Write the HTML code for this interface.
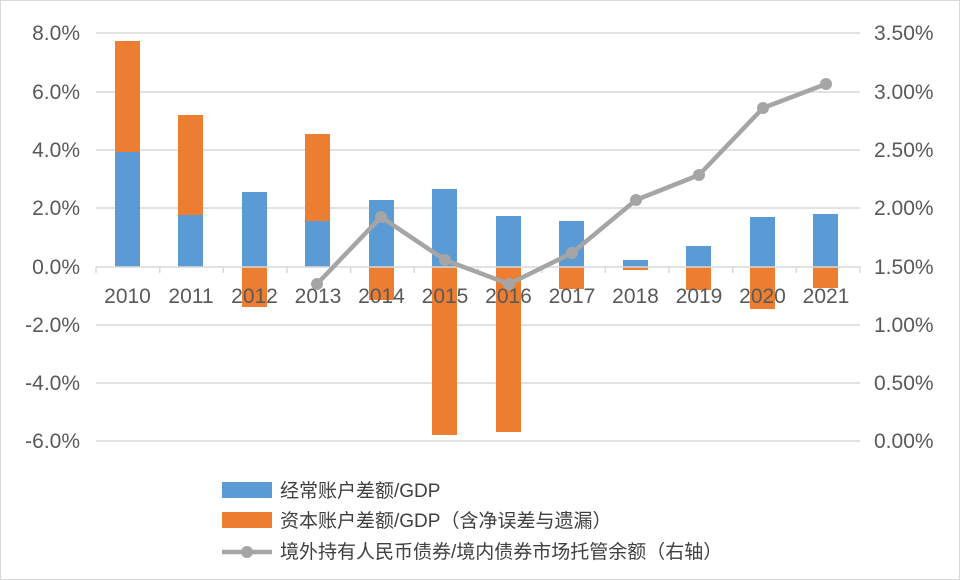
<!DOCTYPE html>
<html><head><meta charset="utf-8"><style>body{margin:0;background:#fff}svg{display:block}text{font-family:"Liberation Sans","Noto Sans CJK SC",sans-serif;fill:#595959}</style></head><body>
<svg width="960" height="580" viewBox="0 0 960 580">
<rect x="0.5" y="0.5" width="959" height="579" fill="#fff" stroke="#d9d9d9"/>
<g stroke="#d9d9d9" stroke-width="1.5">
<line x1="96" y1="33" x2="860" y2="33"/><line x1="96" y1="92" x2="860" y2="92"/><line x1="96" y1="150" x2="860" y2="150"/><line x1="96" y1="208" x2="860" y2="208"/><line x1="96" y1="325" x2="860" y2="325"/><line x1="96" y1="383" x2="860" y2="383"/><line x1="96" y1="441" x2="860" y2="441"/>
</g>
<g font-size="21" text-anchor="end">
<text x="80" y="40">8.0%</text><text x="80" y="99">6.0%</text><text x="80" y="157">4.0%</text><text x="80" y="215">2.0%</text><text x="80" y="274">0.0%</text><text x="80" y="332">-2.0%</text><text x="80" y="390">-4.0%</text><text x="80" y="448">-6.0%</text>
</g>
<g font-size="21" text-anchor="start">
<text x="874" y="40">3.50%</text><text x="874" y="99">3.00%</text><text x="874" y="157">2.50%</text><text x="874" y="215">2.00%</text><text x="874" y="274">1.50%</text><text x="874" y="332">1.00%</text><text x="874" y="390">0.50%</text><text x="874" y="448">0.00%</text>
</g>
<g fill="#5b9bd5">
<rect x="115" y="152" width="25" height="115"/><rect x="178" y="215" width="25" height="52"/><rect x="242" y="192" width="25" height="75"/><rect x="305" y="221" width="25" height="46"/><rect x="369" y="200" width="25" height="67"/><rect x="432" y="189" width="25" height="78"/><rect x="496" y="216" width="25" height="51"/><rect x="559" y="221" width="25" height="46"/><rect x="623" y="260" width="25" height="7"/><rect x="686" y="246" width="25" height="21"/><rect x="750" y="217" width="25" height="50"/><rect x="813" y="214" width="25" height="53"/>
</g>
<g fill="#ed7d31">
<rect x="115" y="41" width="25" height="111"/><rect x="178" y="115" width="25" height="100"/><rect x="242" y="267" width="25" height="40"/><rect x="305" y="134" width="25" height="87"/><rect x="369" y="267" width="25" height="33"/><rect x="432" y="267" width="25" height="168"/><rect x="496" y="267" width="25" height="165"/><rect x="559" y="267" width="25" height="22"/><rect x="623" y="267" width="25" height="3"/><rect x="686" y="267" width="25" height="23"/><rect x="750" y="267" width="25" height="42"/><rect x="813" y="267" width="25" height="21"/>
</g>
<g stroke="#d9d9d9" stroke-width="1.5">
<line x1="96" y1="267" x2="860" y2="267"/>
<line x1="96" y1="267" x2="96" y2="273"/><line x1="159.7" y1="267" x2="159.7" y2="273"/><line x1="223.3" y1="267" x2="223.3" y2="273"/><line x1="287" y1="267" x2="287" y2="273"/><line x1="350.7" y1="267" x2="350.7" y2="273"/><line x1="414.3" y1="267" x2="414.3" y2="273"/><line x1="478" y1="267" x2="478" y2="273"/><line x1="541.7" y1="267" x2="541.7" y2="273"/><line x1="605.3" y1="267" x2="605.3" y2="273"/><line x1="669" y1="267" x2="669" y2="273"/><line x1="732.7" y1="267" x2="732.7" y2="273"/><line x1="796.3" y1="267" x2="796.3" y2="273"/><line x1="860" y1="267" x2="860" y2="273"/>
</g>
<g font-size="21" text-anchor="middle">
<text x="127.5" y="303">2010</text><text x="191" y="303">2011</text><text x="254.5" y="303">2012</text><text x="318" y="303">2013</text><text x="381.5" y="303">2014</text><text x="445" y="303">2015</text><text x="508.5" y="303">2016</text><text x="572" y="303">2017</text><text x="635.5" y="303">2018</text><text x="699" y="303">2019</text><text x="762.5" y="303">2020</text><text x="826" y="303">2021</text>
</g>
<polyline points="317,284 381,217 445,260 509,284 572,253 636,200 699,175 763,108 826,84" fill="none" stroke="#a5a5a5" stroke-width="4.5" stroke-linejoin="round"/>
<g fill="#a5a5a5">
<circle cx="317" cy="284" r="6"/><circle cx="381" cy="217" r="6"/><circle cx="445" cy="260" r="6"/><circle cx="509" cy="284" r="6"/><circle cx="572" cy="253" r="6"/><circle cx="636" cy="200" r="6"/><circle cx="699" cy="175" r="6"/><circle cx="763" cy="108" r="6"/><circle cx="826" cy="84" r="6"/>
</g>
<rect x="222" y="482" width="50" height="16" fill="#5b9bd5"/>
<text x="280" y="497" font-size="19" style="fill:#404040">经常账户差额/GDP</text>
<rect x="222" y="512" width="50" height="16" fill="#ed7d31"/>
<text x="280" y="527" font-size="19" style="fill:#404040">资本账户差额/GDP（含净误差与遗漏）</text>
<line x1="222" y1="552" x2="272" y2="552" stroke="#a5a5a5" stroke-width="4.5"/><circle cx="247" cy="552" r="6" fill="#a5a5a5"/>
<text x="280" y="558" font-size="19" style="fill:#404040">境外持有人民币债券/境内债券市场托管余额（右轴）</text>
</svg>
</body></html>
